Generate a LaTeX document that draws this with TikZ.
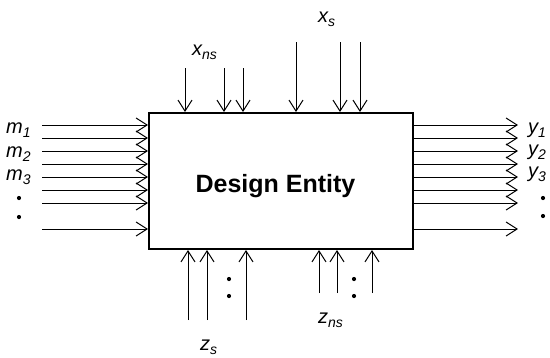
\documentclass[tikz,border=0pt]{standalone}
\usepackage{fontspec}
\setmainfont{Liberation Sans}
\usetikzlibrary{arrows.meta}
\newcommand{\lbl}[2]{{\itshape #1\raisebox{-4.5pt}{\fontsize{14}{14}\selectfont #2}}}
\begin{document}
\begin{tikzpicture}[x=1pt,y=-1pt,
  arr/.style={-{Straight Barb[length=11pt,width=14pt,line width=1pt]}, line width=1pt},
  lab/.style={font=\fontsize{20}{24}\selectfont, inner sep=0pt, anchor=base west},
  dot/.style={circle, fill, inner sep=0pt, minimum size=4.2pt},
  entity/.style={draw, line width=2pt, minimum width=264pt, minimum height=136pt, inner sep=0pt}]
\useasboundingbox (0,0) rectangle (550,357);
% box
\node[entity] (box) at (281,181) {};
\node[font=\bfseries\fontsize{25}{30}\selectfont, inner sep=0pt, anchor=base] (title) at (275.5,192) {Design Entity};
% left inputs
\foreach \yy [count=\i] in {125,138,151,164,177,190,203,229} {
  \coordinate (m\i) at (42,\yy);
  \draw[arr] (m\i) -- (m\i -| box.west);
}
% right outputs
\foreach \yy [count=\i] in {125,138,151,164,177,190,203,229} {
  \coordinate (y\i) at (518,\yy);
  \draw[arr] (y\i -| box.east) -- (y\i);
}
% top inputs x_ns
\foreach \xx [count=\i] in {185,224,243} {
  \coordinate (xn\i) at (\xx,68);
  \draw[arr] (xn\i) -- (xn\i |- box.north);
}
% top inputs x_s
\foreach \xx [count=\i] in {296,340,360} {
  \coordinate (xs\i) at (\xx,42);
  \draw[arr] (xs\i) -- (xs\i |- box.north);
}
% bottom z_s
\foreach \xx [count=\i] in {188,207,246} {
  \coordinate (zs\i) at (\xx,320);
  \draw[arr] (zs\i) -- (zs\i |- box.south);
}
% bottom z_ns
\foreach \xx [count=\i] in {319,337,372} {
  \coordinate (zn\i) at (\xx,293);
  \draw[arr] (zn\i) -- (zn\i |- box.south);
}
% labels
\node[lab] (lm1) at (6,133) {\lbl{m}{1}};
\node[lab] (lm2) at (6,157) {\lbl{m}{2}};
\node[lab] (lm3) at (6,180) {\lbl{m}{3}};
\node[lab] (ly1) at (528,133) {\lbl{y}{1}};
\node[lab] (ly2) at (528,155) {\lbl{y}{2}};
\node[lab] (ly3) at (528,177) {\lbl{y}{3}};
\node[lab] (lxns) at (192,55) {\lbl{x}{ns}};
\node[lab] (lxs) at (318,22) {\lbl{x}{s}};
\node[lab] (lzns) at (318,323) {\lbl{z}{ns}};
\node[lab] (lzs) at (200,350) {\lbl{z}{s}};
% dots
\node[dot] (dl1) at (19,198) {};
\node[dot] (dl2) at (19,217) {};
\node[dot] (dr1) at (543,198) {};
\node[dot] (dr2) at (543,216) {};
\node[dot] (dzs1) at (229,279) {};
\node[dot] (dzs2) at (229,296) {};
\node[dot] (dzn1) at (354,279) {};
\node[dot] (dzn2) at (354,296) {};
\end{tikzpicture}
\end{document}
